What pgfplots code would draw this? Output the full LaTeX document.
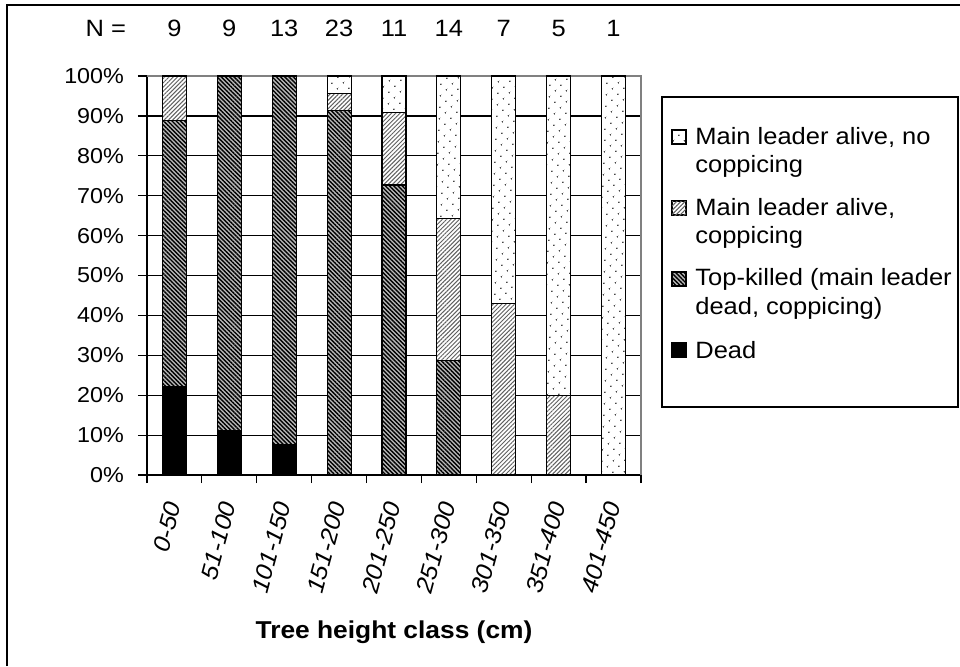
\documentclass[border=0pt]{standalone}
\usepackage{fontspec}
\setmainfont{Liberation Sans}[FakeStretch=1.08]
\usepackage{pgfplots}
\pgfplotsset{compat=1.18}
\usetikzlibrary{patterns.meta}
\tikzset{
 deadst/.style={fill=black, draw=black, line width=0.6pt},
 topst/.style={fill=gray!55, draw=black, line width=0.6pt, postaction={pattern={Lines[angle=-45,distance=1.5pt,line width=0.7pt]}, pattern color=black}},
 copst/.style={fill=white, draw=black, line width=0.6pt, postaction={pattern={Lines[angle=45,distance=1.5pt,line width=0.5pt]}, pattern color=gray!75!black}},
 nocst/.style={fill=white, draw=black, line width=0.6pt, postaction={pattern={Dots[distance=4pt,radius=0.45pt,angle=45]}, pattern color=gray!40!black}},
 nlab/.style={font=\fontsize{11.8}{13}\selectfont},
}
\begin{document}
\begin{tikzpicture}
\useasboundingbox (0,0) rectangle (480pt,333pt);
\draw[line width=1.2pt] (3.5pt,0) -- (3.5pt,330.5pt) -- (480pt,330.5pt);
\begin{axis}[
 at={(73.5pt,95.5pt)}, anchor=south west,
 width=247pt, height=199.5pt, scale only axis,
 ybar stacked, bar width=12pt,
 xmin=-0.5, xmax=8.5, ymin=0, ymax=100,
 xtick={0,...,8},
 xticklabels={0-50,51-100,101-150,151-200,201-250,251-300,301-350,351-400,401-450},
 minor xtick={-0.5,0.5,...,8.5},
 ytick={0,10,...,100},
 yticklabels={0\%,10\%,20\%,30\%,40\%,50\%,60\%,70\%,80\%,90\%,100\%},
 ymajorgrids, grid style={black, line width=0.6pt},
 axis line style={draw=none},
 tick align=outside, xtick pos=bottom, ytick pos=left,
 major tick length=4.5pt, minor tick length=4pt,
 tick style={black, line width=0.6pt},
 major x tick style={draw=none},
 minor x tick style={black, line width=0.6pt},
 xticklabel style={font=\fontsize{11.8}{13}\selectfont\itshape, yshift=-8pt, rotate=75, anchor=east, inner sep=1pt},
 yticklabel style={font=\fontsize{10.8}{12}\selectfont, xshift=-3.5pt},
 clip=false,
]
\addplot[deadst] coordinates {(0,22.2) (1,11.1) (2,7.7) (3,0) (4,0) (5,0) (6,0) (7,0) (8,0)};
\addplot[topst] coordinates {(0,66.7) (1,88.9) (2,92.3) (3,91.3) (4,72.7) (5,28.6) (6,0) (7,0) (8,0)};
\addplot[copst] coordinates {(0,11.1) (1,0) (2,0) (3,4.3) (4,18.2) (5,35.7) (6,42.9) (7,20) (8,0)};
\addplot[nocst] coordinates {(0,0) (1,0) (2,0) (3,4.4) (4,9.1) (5,35.7) (6,57.1) (7,80) (8,100)};
\draw[gray, line width=0.7pt] (rel axis cs:0,1) -- (rel axis cs:1,1) -- (rel axis cs:1,0);
\draw[black, line width=0.7pt] (rel axis cs:0,1) -- (rel axis cs:0,0) -- (rel axis cs:1,0);
\node[nlab] at (axis cs:-1.25,112) {N =};
\node[nlab] at (axis cs:0,112) {9};
\node[nlab] at (axis cs:1,112) {9};
\node[nlab] at (axis cs:2,112) {13};
\node[nlab] at (axis cs:3,112) {23};
\node[nlab] at (axis cs:4,112) {11};
\node[nlab] at (axis cs:5,112) {14};
\node[nlab] at (axis cs:6,112) {7};
\node[nlab] at (axis cs:7,112) {5};
\node[nlab] at (axis cs:8,112) {1};
\end{axis}
\draw[line width=0.6pt] (331pt,129.5pt) rectangle (479pt,284.5pt);
\tikzset{lt/.style={font=\fontsize{11.8}{13}\selectfont, anchor=west, inner sep=0pt}}
\draw[nocst] (336pt,261pt) rectangle (343pt,268pt);
\node[lt] at (347.5pt,264.5pt) {Main leader alive, no};
\node[lt] at (347.5pt,250pt) {coppicing};
\draw[copst] (336pt,225.5pt) rectangle (343pt,232.5pt);
\node[lt] at (347.5pt,229pt) {Main leader alive,};
\node[lt] at (347.5pt,214.5pt) {coppicing};
\draw[topst] (336pt,190pt) rectangle (343pt,197pt);
\node[lt] at (347.5pt,193.5pt) {Top-killed (main leader};
\node[lt] at (347.5pt,179pt) {dead, coppicing)};
\draw[deadst] (336pt,154.5pt) rectangle (343pt,161.5pt);
\node[lt] at (347.5pt,158pt) {Dead};
\node[font=\bfseries\fontsize{12.2}{14}\selectfont] at (197pt,17pt) {Tree height class (cm)};
\end{tikzpicture}
\end{document}
